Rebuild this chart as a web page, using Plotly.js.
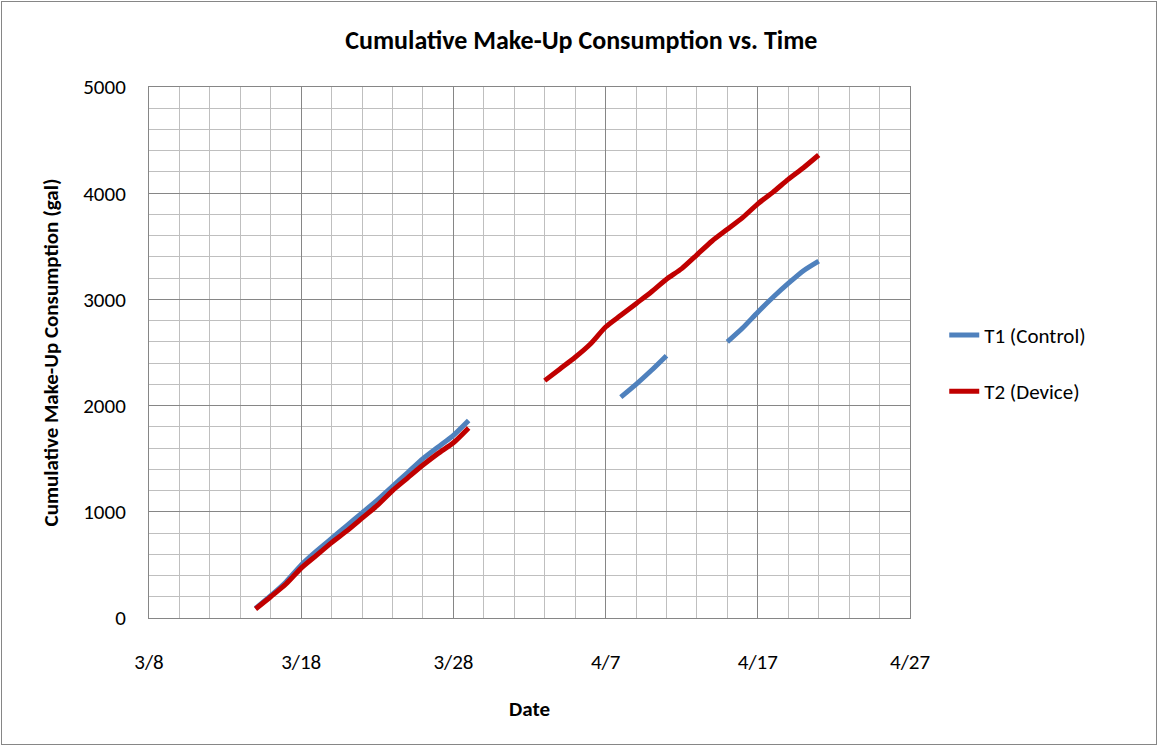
<!DOCTYPE html>
<html>
<head>
<meta charset="utf-8">
<script src="https://cdn.plot.ly/plotly-3.0.1.min.js"></script>
<style>
html,body{margin:0;padding:0;background:#fff;}
#wrap{position:relative;width:1158px;height:746px;}
#chart{width:1158px;height:746px;}
#frame{position:absolute;left:1px;top:1px;width:1154px;height:742px;border:1px solid #868686;pointer-events:none;}
</style>
</head>
<body>
<div id="wrap"><div id="chart"></div><div id="frame"></div></div>
<script>
const dates = [
 '2013-03-15','2013-03-16','2013-03-17','2013-03-18','2013-03-19','2013-03-20','2013-03-21','2013-03-22',
 '2013-03-23','2013-03-24','2013-03-25','2013-03-26','2013-03-27','2013-03-28','2013-03-29',
 '2013-03-30','2013-03-31','2013-04-01','2013-04-02',
 '2013-04-03','2013-04-04','2013-04-05','2013-04-06','2013-04-07','2013-04-08','2013-04-09','2013-04-10',
 '2013-04-11','2013-04-12','2013-04-13','2013-04-14','2013-04-15','2013-04-16','2013-04-17','2013-04-18',
 '2013-04-19','2013-04-20','2013-04-21'
];
const t1Control = [
 90,210,340,500,630,750,870,990,1110,1240,1370,1500,1610,1720,1860,
 null,null,null,null,
 null,null,null,null,null,2080,2200,2330,2470,null,null,null,2600,2730,2880,3020,3150,3270,3360
];
const t2Device = [
 85,200,320,470,590,710,820,940,1060,1200,1320,1440,1550,1650,1790,
 null,null,null,null,
 2235,2345,2455,2580,2740,2850,2960,3070,3190,3290,3420,3550,3660,3770,3900,4010,4130,4240,4360
];
const seriesNames = ['T1 (Control)','T2 (Device)'];
const chartTitle = 'Cumulative Make-Up Consumption vs. Time';
const xTitle = 'Date';
const yTitle = 'Cumulative Make-Up Consumption (gal)';

const FONT = 'Carlito, Calibri, "Liberation Sans Narrow", Arial, sans-serif';
const DAY = 86400000;

const traces = [
 {x: dates, y: t1Control, name: seriesNames[0], type: 'scatter', mode: 'lines',
  line: {color: '#4F81BD', width: 5, shape: 'spline', smoothing: 0.6}, connectgaps: false, legendgroup: 'a'},
 {x: dates, y: t2Device, name: seriesNames[1], type: 'scatter', mode: 'lines',
  line: {color: '#C00000', width: 5, shape: 'spline', smoothing: 0.6}, connectgaps: false, legendgroup: 'b'}
];

const layout = {
 width: 1158, height: 746,
 margin: {l: 149, r: 248, t: 87, b: 128},
 paper_bgcolor: '#ffffff', plot_bgcolor: '#ffffff',
 font: {family: FONT, size: 21, color: '#000000'},
 title: {text: '<b>' + chartTitle + '</b>', x: 0.502, xref: 'container', xanchor: 'center',
   y: 0.947, yref: 'container', yanchor: 'middle', font: {size: 26, family: FONT, color: '#000'}},
 xaxis: {
   type: 'date', range: ['2013-03-08', '2013-04-27'], autorange: false,
   tick0: '2013-03-08', dtick: 10 * DAY, tickformat: '%-m/%-d',
   ticks: '', ticklabelstandoff: 25,
   showgrid: true, gridcolor: '#868686', gridwidth: 1,
   minor: {tick0: '2013-03-08', dtick: 2 * DAY, showgrid: true, gridcolor: '#BFBFBF', gridwidth: 1, ticks: ''},
   showline: true, linecolor: '#868686', linewidth: 1, mirror: true, zeroline: false,
   tickfont: {size: 21, family: FONT},
   title: {text: '<b>' + xTitle + '</b>', standoff: 27, font: {size: 21, family: FONT}}
 },
 yaxis: {
   range: [0, 5000], autorange: false, dtick: 1000, tick0: 0,
   ticks: '', ticklabelstandoff: 18,
   showgrid: true, gridcolor: '#868686', gridwidth: 1,
   minor: {tick0: 0, dtick: 200, showgrid: true, gridcolor: '#BFBFBF', gridwidth: 1, ticks: ''},
   showline: true, linecolor: '#868686', linewidth: 1, mirror: true, zeroline: false,
   tickfont: {size: 21, family: FONT},
   title: {text: '<b>' + yTitle + '</b>', standoff: 18, font: {size: 21, family: FONT}}
 },
 showlegend: true,
 legend: {x: 1.045, xanchor: 'left', y: 0.571, yanchor: 'top', traceorder: 'grouped',
   tracegroupgap: 26, font: {size: 21, family: FONT}, bgcolor: 'rgba(0,0,0,0)'}
};

Plotly.newPlot('chart', traces, layout, {displayModeBar: false, staticPlot: true});
</script>
</body>
</html>
